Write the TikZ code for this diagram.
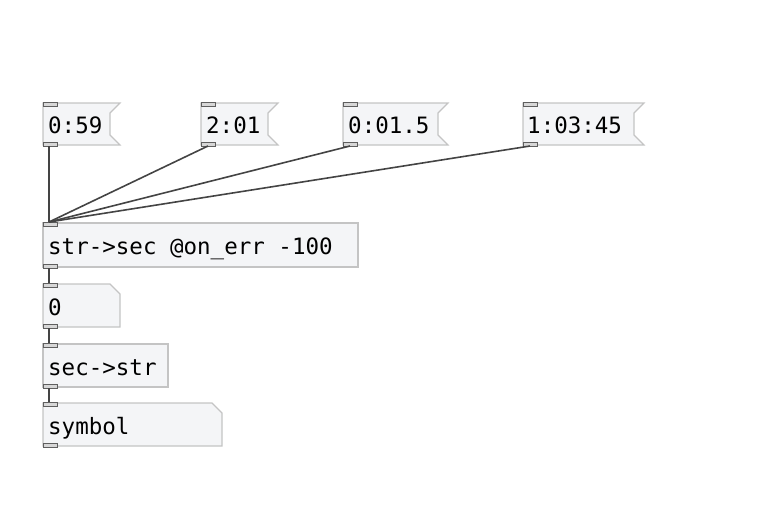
\documentclass[tikz,border=0pt]{standalone}
\usepackage{fontspec}
\setmonofont{DejaVu Sans Mono}
\definecolor{boxline}{RGB}{196,196,196}
\definecolor{boxfill}{RGB}{244,245,247}
\definecolor{portline}{RGB}{95,95,95}
\definecolor{portfill}{RGB}{215,215,215}
\definecolor{wirecol}{RGB}{68,68,68}
\tikzset{
 pdbox/.style={draw=boxline, fill=boxfill, line width=1.2pt},
 pdport/.style={draw=portline, fill=portfill, line width=1pt},
 wire/.style={draw=wirecol, line width=1.6pt},
 lbl/.style={anchor=base west, inner sep=0pt, font=\ttfamily\fontsize{22.5}{24}\selectfont, text=black}
}
\newcommand{\msgbox}[4]{% x1 y1 x2 y2
  \path[pdbox] (#1,#2) -- (#3,#2) -- (#3-10,#2+10) -- (#3-10,#4-10) -- (#3,#4) -- (#1,#4) -- cycle;}
\newcommand{\atombox}[4]{%
  \path[pdbox] (#1,#2) -- (#3-10,#2) -- (#3,#2+10) -- (#3,#4) -- (#1,#4) -- cycle;}
\newcommand{\objbox}[4]{%
  \path[pdbox] (#1,#2) rectangle (#3,#4);}
\newcommand{\inport}[2]{\path[pdport] (#1,#2) rectangle (#1+14,#2+4);}
\newcommand{\outport}[2]{\path[pdport] (#1,#2-4) rectangle (#1+14,#2);}
\begin{document}
\begin{tikzpicture}[x=1pt,y=-1pt]
\useasboundingbox (0,0) rectangle (773,507);
% message boxes
\msgbox{43}{103}{120}{145}
\msgbox{201}{103}{278}{145}
\msgbox{343}{103}{448}{145}
\msgbox{523}{103}{644}{145}
% objects and atoms
\objbox{43}{223}{358}{267}
\atombox{43}{284}{120}{327}
\objbox{43}{344}{168}{387}
\atombox{43}{403}{222}{446}
% labels
\node[lbl] (m1) at (48,133) {0:59};
\node[lbl] (m2) at (206,133) {2:01};
\node[lbl] (m3) at (348,133) {0:01.5};
\node[lbl] (m4) at (527,133) {1:03:45};
\node[lbl] (conv) at (48,254) {str->sec @on\_err -100};
\node[lbl] (num) at (48,315) {0};
\node[lbl] (back) at (48,375) {sec->str};
\node[lbl] (sym) at (48,434) {symbol};
% ports
\foreach \x in {43,201,343,523}{\inport{\x}{102}\outport{\x}{146}}
\inport{43}{222}\outport{43}{268}
\inport{43}{283}\outport{43}{328}
\inport{43}{343}\outport{43}{388}
\inport{43}{402}\outport{43}{447}
% port coordinates
\coordinate (m1o) at (49,146);
\coordinate (m2o) at (208,146);
\coordinate (m3o) at (350,146);
\coordinate (m4o) at (530,146);
\coordinate (convi) at (49,222);
\coordinate (convo) at (49,268);
\coordinate (numi) at (49,283);
\coordinate (numo) at (49,328);
\coordinate (backi) at (49,343);
\coordinate (backo) at (49,388);
\coordinate (symi) at (49,402);
% wires
\draw[wire] (m1o) -- (convi);
\draw[wire] (m2o) -- (convi);
\draw[wire] (m3o) -- (convi);
\draw[wire] (m4o) -- (convi);
\draw[wire] (convo) -- (numi);
\draw[wire] (numo) -- (backi);
\draw[wire] (backo) -- (symi);
\end{tikzpicture}
\end{document}
